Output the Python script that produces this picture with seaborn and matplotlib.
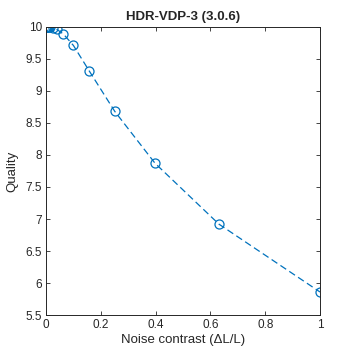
import matplotlib
matplotlib.use("Agg")
import matplotlib.pyplot as plt
import seaborn as sns
import pandas as pd

noise_contrast = [0.001, 0.00158, 0.00251, 0.00398, 0.00631, 0.01, 0.0158, 0.0251,
                  0.0398, 0.0631, 0.1, 0.158, 0.251, 0.398, 0.631, 1.0]
quality = [10.0, 10.0, 10.0, 10.0, 10.0, 10.0, 9.995, 9.985,
           9.96, 9.89, 9.71, 9.31, 8.68, 7.87, 6.92, 5.86]
x_ticks = [0, 0.2, 0.4, 0.6, 0.8, 1]
x_tick_labels = ["0", "0.2", "0.4", "0.6", "0.8", "1"]
y_ticks = [5.5, 6, 6.5, 7, 7.5, 8, 8.5, 9, 9.5, 10]
y_tick_labels = ["5.5", "6", "6.5", "7", "7.5", "8", "8.5", "9", "9.5", "10"]

df = pd.DataFrame({"x": noise_contrast, "q": quality})

sns.set_style("white")
plt.rcParams["font.family"] = ["Liberation Sans", "DejaVu Sans"]

fig = plt.figure(figsize=(3.54, 3.54), dpi=100)
ax = fig.add_axes([0.130, 0.110, 0.774, 0.814])
color = "#0072BD"
sns.lineplot(data=df, x="x", y="q", ax=ax, color=color, linestyle=(0, (5.5, 3)),
             linewidth=0.9, marker="o", markersize=6.5, markerfacecolor="none",
             markeredgecolor=color, markeredgewidth=0.9)

ax.set_xlim(0, 1)
ax.set_ylim(5.5, 10)
ax.set_xticks(x_ticks)
ax.set_xticklabels(x_tick_labels)
ax.set_yticks(y_ticks)
ax.set_yticklabels(y_tick_labels)
tc = "#262626"
ax.tick_params(direction="in", length=3, width=0.6, colors=tc, labelsize=8.5,
               top=True, right=True, bottom=True, left=True, pad=3)
for s in ax.spines.values():
    s.set_visible(True)
    s.set_color(tc)
    s.set_linewidth(0.7)
ax.set_xlabel("Noise contrast (\u0394L/L)", fontsize=9.5, color=tc, labelpad=2)
ax.set_ylabel("Quality", fontsize=9.5, color=tc, labelpad=5)
ax.set_title("HDR-VDP-3 (3.0.6)", fontsize=9.5, fontweight="bold", color=tc, pad=5)

fig.savefig("out.png", dpi=100, facecolor="white")
